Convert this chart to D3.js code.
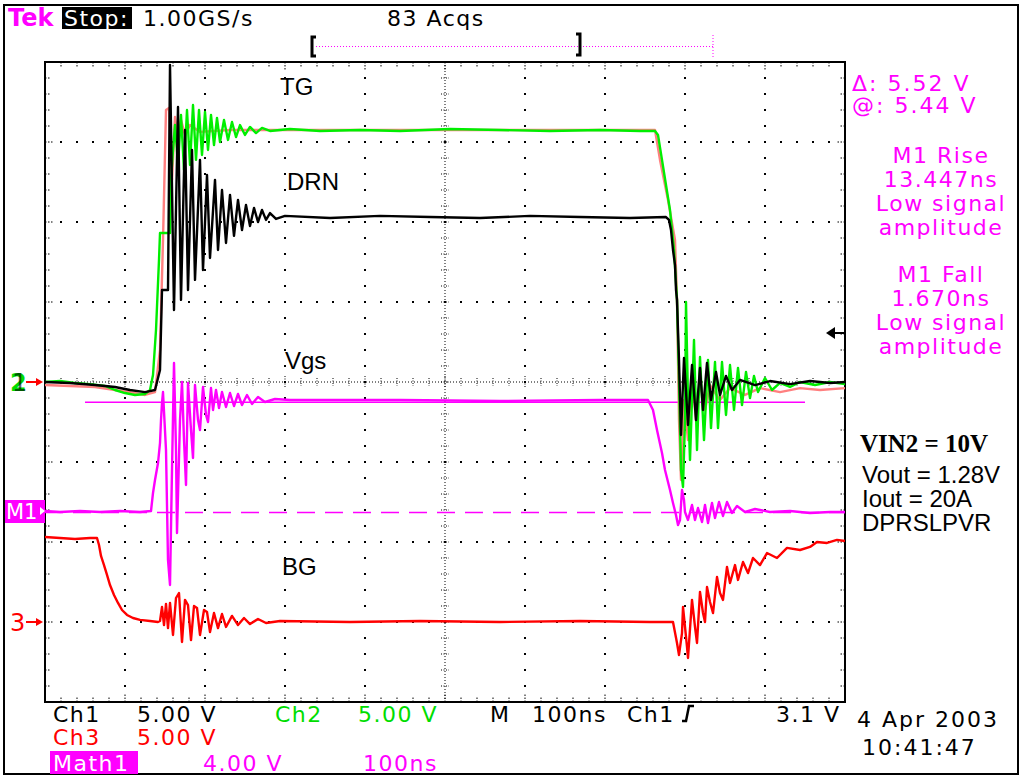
<!DOCTYPE html>
<html>
<head>
<meta charset="utf-8">
<script src="https://cdn.jsdelivr.net/npm/d3@7"></script>
<style>
  body { margin: 0; background: #fff; }
  svg { display: block; font-family: "DejaVu Sans", sans-serif; }
</style>
</head>
<body>
<svg id="scope" width="1021" height="776"></svg>
<script>
const tgPoints = [ // Ch2, 5 V/div
  [0,0],[18.75,0.06],[37.5,-0.06],[56.25,-0.13],[75,-0.25],[87.5,-0.5],[100,-0.69],[112.5,-0.81],
  [125,-0.75],[131.25,-0.5],[135,0.44],[138.75,3.25],[142.5,7.63],[143.75,9.31],[156.25,9.31],
  [157.5,12.63],[160,14.5],[162.5,16.06],[166.25,13.56],[170,16.69],[173.75,13.25],[177.5,17.0],
  [181.25,13.56],[185,17.31],[188.75,13.88],[192.5,17.0],[196.25,14.19],[200,16.88],[203.75,14.5],
  [207.5,16.69],[211.25,14.81],[215,16.5],[218.75,15.0],[223.75,16.38],[228.75,15.13],[233.75,16.25],
  [238.75,15.31],[243.75,16.06],[250,15.44],[256.25,15.94],[263.75,15.56],[271.25,15.88],[281.25,15.69],
  [306.25,15.81],[343.75,15.69],[393.75,15.75],[443.75,15.69],[506.25,15.81],[568.75,15.75],
  [631.25,15.69],[693.75,15.75],[743.75,15.69],[762.5,15.69],[766.25,15.44],[771.25,13.88],
  [776.25,12.31],[781.25,10.75],[786.25,8.25],[790,5.13],[792.5,0.13],[795,-5.5],[797.5,-6.56],
  [800,-2.38],[801.25,5.0],[803.75,-1.13],[806.25,-4.88],[811.25,2.63],[815,-4.25],[818.75,1.56],
  [823.75,-3.63],[828.75,1.38],[832.5,-2.88],[837.5,1.25],[841.25,-2.88],[846.25,1.25],[851.25,-2.06],
  [856.25,1.06],[861.25,-1.75],[866.25,0.88],[871.25,-1.44],[876.25,0.63],[881.25,-1.0],[886.25,0.38],
  [891.25,-0.63],[900,0.25],[908.75,-0.5],[918.75,-0.06],[931.25,-0.31],[943.75,0],[962.5,-0.19],
  [981.25,0],[1000,-0.13]
];
const drnPoints = [ // Ch1, 5 V/div
  [0,0],[31.25,-0.06],[62.5,-0.19],[87.5,-0.31],[106.25,-0.5],[125,-0.63],[137.5,-0.5],[143.75,0.75],
  [146.25,5.75],[153.75,5.75],[156.25,19.81],[161.25,4.5],[166.25,17.19],[170,5.13],[175,15.75],
  [178.75,5.75],[183.75,14.5],[187.5,6.38],[193.75,13.88],[197.5,7.0],[202.5,12.94],[206.25,7.75],
  [212.5,12.63],[216.25,8.25],[221.25,12.0],[226.25,8.69],[231.25,11.69],[236.25,9.13],[241.25,11.38],
  [246.25,9.5],[251.25,11.06],[256.25,9.75],[261.25,10.88],[266.25,10.0],[271.25,10.75],[276.25,10.13],
  [281.25,10.56],[288.75,10.19],[300,10.38],[356.25,10.25],[418.75,10.38],[481.25,10.31],
  [543.75,10.25],[606.25,10.38],[668.75,10.31],[731.25,10.25],[776.25,10.31],[780,10.13],[782.5,9.5],
  [785,8.25],[787.5,7.31],[788.75,5.75],[790,5.13],[792.5,1.38],[795,-3.31],[798.75,1.5],
  [803.75,-2.69],[808.75,1.06],[813.75,-2.38],[818.75,0.88],[822.5,-1.75],[827.5,1.19],[832.5,-1.13],
  [838.75,0.63],[843.75,-0.81],[851.25,0.38],[858.75,-0.5],[868.75,0.13],[887.5,-0.19],[906.25,0.06],
  [931.25,-0.13],[956.25,0.06],[981.25,-0.06],[1000,0]
];
const refPoints = [ // pale trace riding under TG
  [0,-0.19],[31.25,-0.25],[62.5,-0.31],[87.5,-0.5],[106.25,-0.63],[125,-0.81],[137.5,-0.63],
  [143.75,2.0],[147.5,8.88],[151.25,17.0],[155,17.13],[158.75,12.63],[162.5,16.56],[166.25,15.13],
  [170,16.38],[175,15.44],[181.25,16.06],[193.75,15.63],[231.25,15.75],[762.5,15.75],[768.75,13.88],
  [778.75,11.38],[787.5,8.88],[790,5.13],[792.5,-2.38],[795,-6.13],[798.75,-1.13],[803.75,-3.63],
  [808.75,0.44],[813.75,-2.38],[818.75,0.13],[825,-1.75],[831.25,-0.19],[843.75,-1.13],[856.25,-0.38],
  [875,-0.81],[893.75,-0.38],[918.75,-0.63],[943.75,-0.38],[968.75,-0.5],[1000,-0.38]
];
const vgsPoints = [ // Math1, 4 V/div
  [0,0],[18.75,-0.05],[43.75,0],[68.75,-0.05],[93.75,0],[118.75,-0.05],[132.5,0],[135,0.9],
  [137.5,1.55],[141.25,2.4],[143.75,3.4],[145,4.55],[146.25,5.4],[147.5,5.95],[151.25,3.05],
  [153.75,-2.45],[156.25,-3.7],[158.75,2.05],[161.25,7.4],[163.75,3.05],[165,-1.1],[168.75,4.55],
  [171.25,6.45],[173.75,3.55],[176.25,1.3],[178.75,6.4],[182.5,4.05],[185,2.65],[187.5,6.3],
  [191.25,4.55],[193.75,4.05],[197.5,6.2],[201.25,4.8],[203.75,4.45],[207.5,6.15],[210,5.05],
  [213.75,6.05],[217.5,5.15],[221.25,5.95],[226.25,5.2],[231.25,5.9],[236.25,5.25],[241.25,5.85],
  [246.25,5.3],[252.5,5.8],[258.75,5.35],[266.25,5.7],[275,5.45],[287.5,5.6],[306.25,5.55],
  [443.75,5.55],[568.75,5.5],[693.75,5.55],[753.75,5.55],[760,5.05],[765,4.05],[771.25,2.9],
  [775,2.05],[781.25,1.05],[785,0.4],[788.75,-0.2],[791.25,-0.7],[793.75,-0.45],[796.25,1.05],
  [798.75,0.55],[800,-0.05],[803.75,-0.45],[808.75,0.3],[812.5,-0.45],[816.25,0.15],[821.25,-0.55],
  [825,0.3],[828.75,-0.6],[833.75,0.4],[837.5,-0.35],[842.5,0.45],[847.5,-0.25],[852.5,0.45],
  [858.75,-0.1],[865,0.25],[875,-0.05],[887.5,0.1],[906.25,-0.05],[931.25,0],[956.25,-0.1],
  [981.25,-0.05],[1000,-0.05]
];
const bgPoints = [ // Ch3, 5 V/div
  [0,5.31],[18.75,5.25],[37.5,5.19],[56.25,5.25],[65,5.25],[67.5,4.81],[70,4.13],[73.75,3.56],
  [77.5,2.94],[81.25,2.31],[86.25,1.69],[91.25,1.19],[96.25,0.75],[102.5,0.44],[110,0.25],
  [118.75,0.13],[131.25,0.06],[141.25,0],[143.75,0.06],[146.25,0.94],[148.75,-0.19],[151.25,1.13],
  [153.75,-0.38],[156.25,1.19],[160,-0.81],[163.75,1.5],[167.5,1.81],[171.25,-1.25],[175,1.38],
  [178.75,1.06],[182.5,-1.13],[186.25,1.0],[190,0.88],[193.75,-0.81],[198.75,0.75],[202.5,0.63],
  [206.25,-0.63],[211.25,0.56],[216.25,-0.38],[221.25,0.5],[226.25,-0.31],[233.75,0.38],
  [241.25,-0.19],[248.75,0.25],[256.25,-0.13],[266.25,0.19],[276.25,-0.06],[293.75,0.06],
  [381.25,0],[468.75,0.06],[568.75,0],[668.75,0.06],[756.25,0],[785,0],[790,-1.31],[792.5,-2.06],
  [796.25,-0.69],[797.5,0.94],[802.5,-1.56],[803.75,-2.25],[808.75,1.38],[812.5,-0.31],[815,-1.31],
  [818.75,1.88],[822.5,0.56],[825,0],[827.5,2.19],[831.25,1.25],[835,0.56],[840,2.81],[843.75,1.81],
  [847.5,1.38],[852.5,3.44],[856.25,2.44],[862.5,3.56],[866.25,2.63],[872.5,3.75],[878.75,3.06],
  [885,4.0],[893.75,3.56],[902.5,4.31],[915,4.0],[927.5,4.63],[943.75,4.5],[956.25,4.69],[965,5.0],
  [977.5,4.94],[990,5.13],[1000,5.06]
];
const cursorVolts = [5.44, -0.08]; // Math1 cursors (@ and @-Δ)

const readoutLines = ["M1 Rise", "13.447ns", "Low signal", "amplitude", "M1 Fall", "1.670ns", "Low signal", "amplitude"];
const noteLines = ["Vout = 1.28V", "Iout = 20A", "DPRSLPVR"];

const svg = d3.select("#scope");
const gx0 = 45, gx1 = 845, gy0 = 62, gy1 = 702;

const x = d3.scaleLinear().domain([0, 1000]).range([gx0, gx1]);
const yDiv = d3.scaleLinear().domain([-4, 4]).range([gy1, gy0]);
const yCh12 = d3.scaleLinear().domain([-20, 20]).range([gy1, gy0]);   // ground at centre
const yCh3 = d3.scaleLinear().domain([-5, 35]).range([gy1, gy0]);     // ground 3 div below
const yMath = d3.scaleLinear().domain([-9.55, 22.45]).range([gy1, gy0]); // ground at M1 marker

// outer frame
svg.append("rect").attr("x", 4).attr("y", 5).attr("width", 1014).attr("height", 769)
  .attr("fill", "none").attr("stroke", "#000").attr("stroke-width", 2);

// graticule
const grid = svg.append("g");
const minorT = d3.range(0, 1001, 20);
const minorD = d3.range(-4, 4.001, 0.2);

[100, 200, 300, 400, 600, 700, 800, 900].forEach(t => {
  grid.selectAll(null).data(minorD).enter().append("rect")
    .attr("x", x(t) - 1).attr("y", d => yDiv(d) - 1).attr("width", 2).attr("height", 2).attr("fill", "#000");
});
[-3, -2, -1, 1, 2, 3].forEach(d0 => {
  grid.selectAll(null).data(minorT).enter().append("rect")
    .attr("x", t => x(t) - 1).attr("y", yDiv(d0) - 1).attr("width", 2).attr("height", 2).attr("fill", "#000");
});

// centre cross: fine dotted lines with ticks
grid.append("line").attr("x1", gx0).attr("x2", gx1).attr("y1", yDiv(0)).attr("y2", yDiv(0))
  .attr("stroke", "#000").attr("stroke-dasharray", "1,2");
grid.append("line").attr("x1", x(500)).attr("x2", x(500)).attr("y1", gy0).attr("y2", gy1)
  .attr("stroke", "#000").attr("stroke-dasharray", "1,2");
grid.selectAll(null).data(minorT).enter().append("line")
  .attr("x1", t => x(t)).attr("x2", t => x(t))
  .attr("y1", t => yDiv(0) - (t % 100 === 0 ? 6 : 4)).attr("y2", t => yDiv(0) + (t % 100 === 0 ? 6 : 4))
  .attr("stroke", "#000").attr("stroke-dasharray", "1,1.5");
grid.selectAll(null).data(minorD).enter().append("line")
  .attr("y1", d => yDiv(d)).attr("y2", d => yDiv(d))
  .attr("x1", x(500) - 4).attr("x2", x(500) + 4)
  .attr("stroke", "#000").attr("stroke-dasharray", "1,1.5");

// edge ticks
grid.selectAll(null).data(minorT).enter().append("line")
  .attr("x1", t => x(t)).attr("x2", t => x(t)).attr("y1", gy0).attr("y2", t => gy0 + (t % 100 === 0 ? 9 : 5))
  .attr("stroke", "#000").attr("stroke-dasharray", "1.5,1.5");
grid.selectAll(null).data(minorT).enter().append("line")
  .attr("x1", t => x(t)).attr("x2", t => x(t)).attr("y1", gy1).attr("y2", t => gy1 - (t % 100 === 0 ? 9 : 5))
  .attr("stroke", "#000").attr("stroke-dasharray", "1.5,1.5");
grid.selectAll(null).data(minorD).enter().append("line")
  .attr("y1", d => yDiv(d)).attr("y2", d => yDiv(d)).attr("x1", gx0)
  .attr("x2", d => gx0 + (Math.abs(d - Math.round(d)) < 0.01 ? 9 : 5))
  .attr("stroke", "#000").attr("stroke-dasharray", "1.5,1.5");
grid.selectAll(null).data(minorD).enter().append("line")
  .attr("y1", d => yDiv(d)).attr("y2", d => yDiv(d)).attr("x1", gx1)
  .attr("x2", d => gx1 - (Math.abs(d - Math.round(d)) < 0.01 ? 9 : 5))
  .attr("stroke", "#000").attr("stroke-dasharray", "1.5,1.5");

grid.append("rect").attr("x", gx0).attr("y", gy0).attr("width", gx1 - gx0).attr("height", gy1 - gy0)
  .attr("fill", "none").attr("stroke", "#000").attr("stroke-width", 2);

// cursors
svg.append("line").attr("x1", 85).attr("x2", 805)
  .attr("y1", yMath(cursorVolts[0])).attr("y2", yMath(cursorVolts[0]))
  .attr("stroke", "#ff00ff").attr("stroke-width", 1.5);
svg.append("line").attr("x1", gx0).attr("x2", gx1)
  .attr("y1", yMath(cursorVolts[1])).attr("y2", yMath(cursorVolts[1]))
  .attr("stroke", "#ff00ff").attr("stroke-width", 1.5).attr("stroke-dasharray", "18,10");

// traces
function trace(points, yScale, color) {
  const line = d3.line().x(d => x(d[0])).y(d => yScale(d[1]));
  svg.append("path").datum(points).attr("d", line)
    .attr("fill", "none").attr("stroke", color).attr("stroke-width", 2.4).attr("stroke-linejoin", "round");
}
trace(refPoints, yCh12, "#ff8080");
trace(tgPoints, yCh12, "#00ee00");
trace(drnPoints, yCh12, "#000000");
trace(bgPoints, yCh3, "#ff0000");
trace(vgsPoints, yMath, "#ff00ff");

// trace names
const nameFont = "'Liberation Sans', Arial, sans-serif";
[["TG", 280, 95], ["DRN", 287, 190], ["Vgs", 285, 369], ["BG", 282, 575]].forEach(([s, tx, ty]) => {
  svg.append("text").attr("x", tx).attr("y", ty).style("font-family", nameFont).attr("font-size", 24).text(s);
});

// ground markers
function arrowRight(x0, y0, color) {
  svg.append("line").attr("x1", x0).attr("x2", x0 + 12).attr("y1", y0).attr("y2", y0)
    .attr("stroke", color).attr("stroke-width", 2);
  svg.append("path").attr("d", `M${x0 + 17},${y0} L${x0 + 10},${y0 - 4} L${x0 + 10},${y0 + 4} Z`).attr("fill", color);
}
svg.append("text").attr("x", 10).attr("y", yCh12(0) + 9).attr("font-size", 24).attr("font-weight", "bold")
  .attr("fill", "#00dd00").text("2");
svg.append("text").attr("x", 12).attr("y", yCh12(0) + 9).attr("font-size", 24).attr("fill", "#000")
  .attr("opacity", 0.6).text("1");
arrowRight(26, yCh12(0), "#ff0000");
svg.append("text").attr("x", 10).attr("y", yCh3(0) + 9).attr("font-size", 24).attr("fill", "#ff0000").text("3");
arrowRight(26, yCh3(0), "#ff0000");
svg.append("rect").attr("x", 5).attr("y", yMath(0) - 11).attr("width", 40).attr("height", 23).attr("fill", "#ff00ff");
svg.append("text").attr("x", 6).attr("y", yMath(0) + 8).attr("font-size", 21).attr("fill", "#fff").text("M1");
svg.append("path").attr("d", `M45,${yMath(0)} L40,${yMath(0) - 4} L40,${yMath(0) + 4} Z`).attr("fill", "#fff");

// trigger level arrow
svg.append("line").attr("x1", 832).attr("x2", 845).attr("y1", 333).attr("y2", 333).attr("stroke", "#000").attr("stroke-width", 2);
svg.append("path").attr("d", "M826,333 L835,327 L835,339 Z").attr("fill", "#000");

// header
const ls = "1.5px";
svg.append("text").attr("x", 8).attr("y", 26).attr("font-size", 24).attr("font-weight", "bold").attr("fill", "#ff00ff").text("Tek");
svg.append("rect").attr("x", 62).attr("y", 7).attr("width", 70).attr("height", 22).attr("fill", "#000");
svg.append("text").attr("x", 64).attr("y", 26).attr("font-size", 22).attr("letter-spacing", ls).attr("fill", "#fff").text("Stop:");
svg.append("text").attr("x", 143).attr("y", 26).attr("font-size", 22).attr("letter-spacing", ls).text("1.00GS/s");
svg.append("text").attr("x", 387).attr("y", 26).attr("font-size", 22).attr("letter-spacing", ls).text("83 Acqs");

// record view bar
svg.append("line").attr("x1", 316).attr("x2", 713).attr("y1", 46.5).attr("y2", 46.5)
  .attr("stroke", "#ff00ff").attr("stroke-dasharray", "1,2");
svg.append("line").attr("x1", 713).attr("x2", 713).attr("y1", 35).attr("y2", 58)
  .attr("stroke", "#ff00ff").attr("stroke-dasharray", "1,2");
svg.append("path").attr("d", "M316,37 L312,37 L312,56 L316,56").attr("fill", "none").attr("stroke", "#000").attr("stroke-width", 3);
svg.append("path").attr("d", "M576,34 L580,34 L580,55 L576,55").attr("fill", "none").attr("stroke", "#000").attr("stroke-width", 3);

// cursor readouts
svg.append("text").attr("x", 852).attr("y", 91).attr("font-size", 22).attr("letter-spacing", "2px").attr("fill", "#ff00ff").text("Δ: 5.52 V");
svg.append("text").attr("x", 852).attr("y", 113).attr("font-size", 22).attr("letter-spacing", "2px").attr("fill", "#ff00ff").text("@: 5.44 V");
svg.selectAll(null).data(readoutLines).enter().append("text")
  .attr("x", 941).attr("y", (d, i) => (i < 4 ? 163 : 186) + i * 24)
  .attr("text-anchor", "middle").attr("font-size", 22).attr("letter-spacing", ls).attr("fill", "#ff00ff").text(d => d);

// test conditions
svg.append("text").attr("x", 860).attr("y", 452).style("font-family", "'Liberation Serif', 'Times New Roman', serif")
  .attr("font-weight", "bold").attr("font-size", 25).text("VIN2 = 10V");
svg.selectAll(null).data(noteLines).enter().append("text")
  .attr("x", 862).attr("y", (d, i) => 483 + i * 24).style("font-family", nameFont).attr("font-size", 24).text(d => d);

// status bar
function label(s, tx, ty, color, extra) {
  return svg.append("text").attr("x", tx).attr("y", ty).attr("font-size", 22).attr("letter-spacing", extra || ls)
    .attr("fill", color).text(s);
}
label("Ch1", 53, 722, "#000"); label("5.00 V", 137, 722, "#000");
label("Ch2", 275, 722, "#00dd00"); label("5.00 V", 358, 722, "#00dd00");
label("M", 490, 722, "#000"); label("100ns", 532, 722, "#000"); label("Ch1", 627, 722, "#000");
svg.append("path").attr("d", "M682,721 L686,721 L689,706 L694,706").attr("fill", "none").attr("stroke", "#000").attr("stroke-width", 2.5);
label("3.1 V", 776, 722, "#000");
label("Ch3", 53, 745, "#ff0000"); label("5.00 V", 137, 745, "#ff0000");
svg.append("rect").attr("x", 50).attr("y", 751).attr("width", 88).attr("height", 23).attr("fill", "#ff00ff");
label("Math1", 53, 771, "#fff");
label("4.00 V", 203, 771, "#ff00ff"); label("100ns", 363, 771, "#ff00ff");
label("4 Apr 2003", 857, 727, "#000", "2px");
label("10:41:47", 862, 755, "#000", "2px");
</script>
</body>
</html>
